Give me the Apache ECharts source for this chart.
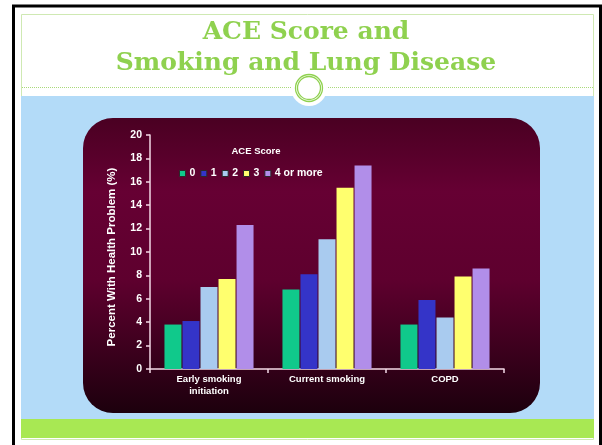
<!DOCTYPE html>
<html>
<head>
<meta charset="utf-8">
<script src="https://cdn.jsdelivr.net/npm/echarts@6/dist/echarts.min.js"></script>
<style>
  html, body { margin: 0; padding: 0; background: #fff; }
  #chart { width: 602px; height: 445px; }
</style>
</head>
<body>
<div id="chart"></div>
<script>
// categories and values
const categories = ["Early smoking\ninitiation", "Current smoking", "COPD"];
const seriesNames = ["0", "1", "2", "3", "4 or more"];
const ace0 = [3.8, 6.8, 3.8];
const ace1 = [4.1, 8.1, 5.9];
const ace2 = [7.0, 11.1, 4.4];
const ace3 = [7.7, 15.5, 7.9];
const ace4 = [12.3, 17.4, 8.6];
const yMin = 0;
const yMax = 20;
const yStep = 2;

const colors = ["#10c98b", "#3434c8", "#a9cbef", "#ffff6e", "#b18ee9"];
const font = "Liberation Sans, Arial, sans-serif";

const chart = echarts.init(document.getElementById("chart"));

const options = {
  animation: false,
  textStyle: { fontFamily: font },
  graphic: [
    // outer frame
    { type: "rect", z: -10, silent: true, shape: { x: 13.5, y: 6, width: 587, height: 450 },
      style: { fill: "#fff", stroke: "#000", lineWidth: 3 } },
    { type: "rect", z: -9, silent: true, shape: { x: 21.5, y: 14.5, width: 572, height: 425 },
      style: { fill: "none", stroke: "#cfe9b3", lineWidth: 1 } },
    // blue panel + green bar
    { type: "rect", z: -8, silent: true, shape: { x: 21, y: 96, width: 573, height: 323 },
      style: { fill: "#b3dbf8" } },
    { type: "rect", z: -8, silent: true, shape: { x: 21, y: 419, width: 573, height: 19 },
      style: { fill: "#a8e853" } },
    // dotted separator
    { type: "line", z: -8, silent: true, shape: { x1: 22, y1: 87.5, x2: 593, y2: 87.5 },
      style: { stroke: "#a9d97a", lineWidth: 1, lineDash: [1, 1] } },
    // circle ornament
    { type: "circle", z: -7, silent: true, shape: { cx: 309, cy: 88, r: 18 },
      style: { fill: "#fff" } },
    { type: "circle", z: -6, silent: true, shape: { cx: 309, cy: 88, r: 13.5 },
      style: { fill: "none", stroke: "#8fd14f", lineWidth: 1.3 } },
    { type: "circle", z: -6, silent: true, shape: { cx: 309, cy: 88, r: 11.5 },
      style: { fill: "none", stroke: "#8fd14f", lineWidth: 1.3 } },
    // title
    { type: "text", z: -5, silent: true, x: 306, y: 17,
      style: { text: "ACE Score and\nSmoking and Lung Disease", fill: "#8fd14f",
        font: "bold 25px 'DejaVu Serif', 'Liberation Serif', serif",
        lineHeight: 31, textAlign: "center" } },
    // maroon chart panel
    { type: "rect", z: -5, silent: true, shape: { x: 83, y: 118, width: 457, height: 295, r: 30 },
      style: { fill: { type: "linear", x: 0, y: 0, x2: 0, y2: 1, colorStops: [
        { offset: 0, color: "#4a0022" },
        { offset: 0.25, color: "#660033" },
        { offset: 0.55, color: "#5e002e" },
        { offset: 0.8, color: "#3a001c" },
        { offset: 1, color: "#1c000d" }
      ] } } },
    // legend title
    { type: "text", z: 5, silent: true, x: 256, y: 146,
      style: { text: "ACE Score", fill: "#fff", font: "bold 9.5px " + font, textAlign: "center" } }
  ],
  legend: {
    data: seriesNames,
    left: 174,
    top: 163,
    icon: "rect",
    itemWidth: 6,
    itemHeight: 6,
    itemGap: 5,
    itemStyle: { borderColor: "#2a2a2a", borderWidth: 1 },
    textStyle: { color: "#fff", fontWeight: "bold", fontSize: 10.5, padding: [0, 0, 0, -1] }
  },
  grid: { left: 150, right: 98, top: 135, bottom: 76 },
  xAxis: {
    type: "category",
    data: categories,
    axisLine: { lineStyle: { color: "#f3d9e6", width: 1.5 } },
    axisTick: { show: true, length: 4, lineStyle: { color: "#f3d9e6", width: 1.5 } },
    axisLabel: { color: "#fff", fontWeight: "bold", fontSize: 9.5, lineHeight: 12, margin: 4 }
  },
  yAxis: {
    type: "value",
    min: yMin,
    max: yMax,
    interval: yStep,
    name: "Percent With Health Problem (%)",
    nameLocation: "middle",
    nameGap: 32,
    nameTextStyle: { color: "#fff", fontWeight: "bold", fontSize: 11.5, padding: [0, 0, 0, -10] },
    splitLine: { show: false },
    axisLine: { show: true, lineStyle: { color: "#f3d9e6", width: 1.5 } },
    axisTick: { show: true, length: 4, lineStyle: { color: "#f3d9e6", width: 1.5 } },
    axisLabel: { color: "#fff", fontWeight: "bold", fontSize: 10.5, margin: 8 }
  },
  series: [ace0, ace1, ace2, ace3, ace4].map((vals, i) => ({
    name: seriesNames[i],
    type: "bar",
    data: vals,
    barWidth: 17,
    barGap: "6%",
    itemStyle: { color: colors[i] }
  }))
};

chart.setOption(options);
</script>
</body>
</html>
